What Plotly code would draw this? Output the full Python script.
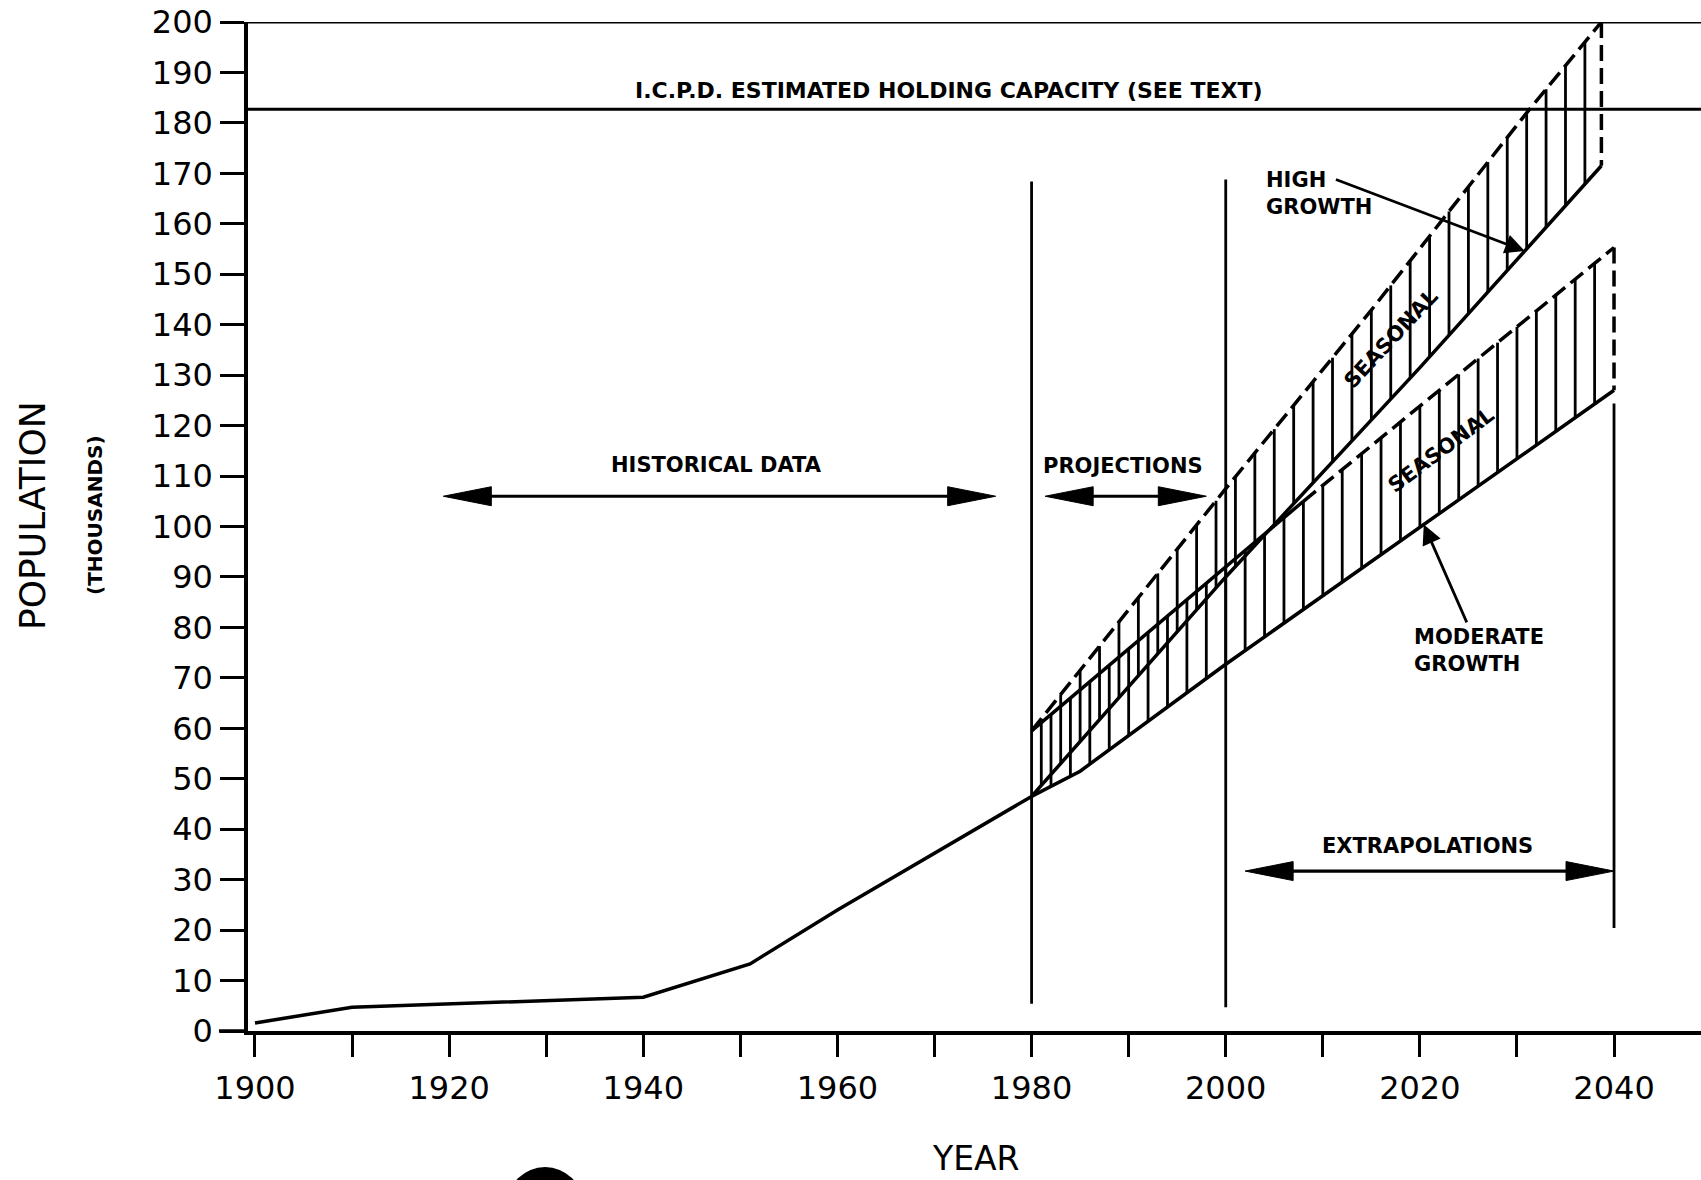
import numpy as np
import plotly.graph_objects as go

# ---------------- data ----------------
hist_years = [1900, 1910, 1940, 1951, 1960, 1980]
hist_pop = [1.6, 4.7, 6.7, 13.3, 24.0, 46.5]

high_upper_years = [1980, 2000, 2015, 2031, 2038.7]
high_upper = [59.5, 107.5, 142.9, 182.0, 200.0]
high_lower_years = [1980, 2000, 2020, 2038.7]
high_lower = [46.5, 90.0, 131.5, 171.5]

mod_upper_years = [1980, 2000, 2008, 2040]
mod_upper = [59.5, 92.0, 105.0, 155.3]
mod_lower_years = [1980, 1985, 2000, 2040]
mod_lower = [46.5, 51.5, 72.7, 127.0]

capacity = 182.7

divider_years = [1980, 2000, 2040]
divider_low = [5.4, 4.7, 20.4]
divider_high = [168.4, 168.8, 124.4]

x_ticks = list(range(1900, 2041, 10))
x_tick_labels = [str(v) if v % 20 == 0 else "" for v in x_ticks]
y_ticks = list(range(0, 201, 10))
y_tick_labels = [str(v) for v in y_ticks]

# ---------------- layout constants ----------------
W, H = 1701, 1180
ML, MR, MT, MB = 248, 0, 22, 149
X0, X1 = 1899.28, 2048.96
Y0, Y1 = 0, 200
PX_X = (W - ML - MR) / (X1 - X0)
PX_Y = (H - MT - MB) / (Y1 - Y0)

BLACK = "black"
LW = 3.5


def line_trace(x, y, width=LW, dash=None):
    return go.Scatter(x=x, y=y, mode="lines",
                      line=dict(color=BLACK, width=width, dash=dash),
                      hoverinfo="skip", showlegend=False)


fig = go.Figure()

# historical data
fig.add_trace(line_trace(hist_years, hist_pop))

# hatching of the two bands (vertical lines every two years)
def hatch(years, lo_x, lo_y, hi_x, hi_y):
    hx, hy = [], []
    for yr in years:
        hx += [yr, yr, None]
        hy += [float(np.interp(yr, lo_x, lo_y)), float(np.interp(yr, hi_x, hi_y)), None]
    return hx, hy

hx, hy = hatch(np.arange(1981, 2038.7, 2), high_lower_years, high_lower,
               high_upper_years, high_upper)
fig.add_trace(line_trace(hx, hy, width=2.8))
mx, my = hatch(np.arange(1982, 2040, 2), mod_lower_years, mod_lower,
               mod_upper_years, mod_upper)
fig.add_trace(line_trace(mx, my, width=2.8))

DASH = "16px,7px"
# high growth band
fig.add_trace(line_trace(high_upper_years, high_upper, dash=DASH))
fig.add_trace(line_trace(high_lower_years, high_lower))
fig.add_trace(line_trace([high_upper_years[-1], high_lower_years[-1]],
                         [high_upper[-1], high_lower[-1]], dash=DASH))
# moderate growth band (solid to 2008, dashed after)
split = mod_upper_years.index(2008)
fig.add_trace(line_trace(mod_upper_years[:split + 1], mod_upper[:split + 1]))
fig.add_trace(line_trace(mod_upper_years[split:], mod_upper[split:], dash=DASH))
fig.add_trace(line_trace(mod_lower_years, mod_lower))
fig.add_trace(line_trace([mod_upper_years[-1], mod_lower_years[-1]],
                         [mod_upper[-1], mod_lower[-1]], dash=DASH))

# divider verticals
dx, dy = [], []
for yr, lo, hi in zip(divider_years, divider_low, divider_high):
    dx += [yr, yr, None]
    dy += [lo, hi, None]
fig.add_trace(line_trace(dx, dy, width=2.8))

# ---------------- double arrows ----------------
def double_arrow(x_a, x_b, y, head_len=48, half=9.5):
    hl = head_len / PX_X
    hw = half / PX_Y
    fig.add_trace(line_trace([x_a + hl * 0.5, x_b - hl * 0.5], [y, y], width=3.2))
    px = [x_a, x_a + hl, x_a + hl, x_a, None, x_b, x_b - hl, x_b - hl, x_b]
    py = [y, y + hw, y - hw, y, None, y, y + hw, y - hw, y]
    fig.add_trace(go.Scatter(x=px, y=py, mode="lines", fill="toself",
                             fillcolor=BLACK, line=dict(color=BLACK, width=1),
                             hoverinfo="skip", showlegend=False))

double_arrow(1919.4, 1976.3, 106.0)
double_arrow(1981.4, 1998.0, 106.0)
double_arrow(2002.0, 2040.0, 31.7)

# ---------------- shapes ----------------
shapes = [
    dict(type="line", xref="paper", yref="y", x0=0, x1=1, y0=200, y1=200,
         line=dict(color=BLACK, width=3)),
    dict(type="line", xref="paper", yref="y", x0=0, x1=1, y0=capacity, y1=capacity,
         line=dict(color=BLACK, width=3)),
    dict(type="line", xref="paper", yref="paper", x0=-0.02, x1=0, y0=0, y1=0,
         line=dict(color=BLACK, width=3.5)),
    dict(type="circle", xref="paper", yref="paper", x0=0.1783, x1=0.2306,
         y0=-0.2095, y1=-0.1348, fillcolor=BLACK, line=dict(color=BLACK, width=0)),
]

LABEL_FONT = dict(family="DejaVu Sans", size=21, color=BLACK, weight="bold")
SEAS_FONT = dict(family="DejaVu Sans", size=21, color=BLACK, weight="bold")

annotations = [
    dict(x=1971.5, y=186.5, text="I.C.P.D. ESTIMATED HOLDING CAPACITY (SEE TEXT)",
         showarrow=False, font=dict(family="DejaVu Sans", size=22, color=BLACK, weight="bold")),
    dict(x=1947.5, y=112.2, text="HISTORICAL DATA", showarrow=False, font=LABEL_FONT),
    dict(x=1989.4, y=112.0, text="PROJECTIONS", showarrow=False, font=LABEL_FONT),
    dict(x=2020.8, y=36.7, text="EXTRAPOLATIONS", showarrow=False, font=LABEL_FONT),
    dict(x=2003.9, y=166.1, text="HIGH<br>GROWTH", showarrow=False, xanchor="left",
         align="left", font=LABEL_FONT),
    dict(x=2019.2, y=75.5, text="MODERATE<br>GROWTH", showarrow=False, xanchor="left",
         align="left", font=LABEL_FONT),
    dict(x=2017.0, y=137.2, text="SEASONAL", showarrow=False, textangle=-47,
         font=SEAS_FONT),
    dict(x=2022.2, y=115.2, text="SEASONAL", showarrow=False, textangle=-37,
         font=SEAS_FONT),
    # pointer arrows
    dict(x=2030.8, y=float(np.interp(2030.8, high_lower_years, high_lower)),
         ax=2011.2, ay=168.9, axref="x", ayref="y", text="", showarrow=True,
         arrowhead=2, arrowsize=1.4, arrowwidth=2.8, arrowcolor=BLACK),
    dict(x=2020.4, y=float(np.interp(2020.4, mod_lower_years, mod_lower)),
         ax=2024.9, ay=80.7, axref="x", ayref="y", text="", showarrow=True,
         arrowhead=2, arrowsize=1.4, arrowwidth=2.8, arrowcolor=BLACK),
    # axis titles
    dict(xref="paper", yref="paper", x=0.501, y=-0.1265, text="YEAR", showarrow=False,
         xanchor="center", yanchor="middle",
         font=dict(family="DejaVu Sans", size=33, color=BLACK)),
    dict(xref="paper", yref="paper", x=-0.148, y=0.5114, text="POPULATION",
         showarrow=False, textangle=-90, xanchor="center", yanchor="middle",
         font=dict(family="DejaVu Sans", size=36, color=BLACK)),
    dict(xref="paper", yref="paper", x=-0.1053, y=0.5114, text="(THOUSANDS)",
         showarrow=False, textangle=-90, xanchor="center", yanchor="middle",
         font=dict(family="DejaVu Sans", size=20, color=BLACK, weight="bold")),
]

fig.update_layout(
    width=W, height=H,
    margin=dict(l=ML, r=MR, t=MT, b=MB, pad=0),
    paper_bgcolor="white", plot_bgcolor="white",
    showlegend=False,
    shapes=shapes,
    annotations=annotations,
    xaxis=dict(range=[X0, X1], tickmode="array", tickvals=x_ticks, ticktext=x_tick_labels,
               ticks="outside", ticklen=22, tickwidth=3, tickcolor=BLACK,
               showline=True, linewidth=3.5, linecolor=BLACK, showgrid=False,
               zeroline=False, ticklabelstandoff=4, automargin=False,
               tickfont=dict(family="DejaVu Sans", size=32, color=BLACK)),
    yaxis=dict(range=[Y0, Y1], tickmode="array", tickvals=y_ticks, ticktext=y_tick_labels,
               ticks="outside", ticklen=24, tickwidth=3, tickcolor=BLACK,
               showline=True, linewidth=3.5, linecolor=BLACK, showgrid=False,
               zeroline=False, ticklabelstandoff=1, automargin=False,
               tickfont=dict(family="DejaVu Sans", size=32, color=BLACK)),
)

fig.write_html("out.html", config={"displayModeBar": False},
               post_script="document.body.style.margin='0px';")
